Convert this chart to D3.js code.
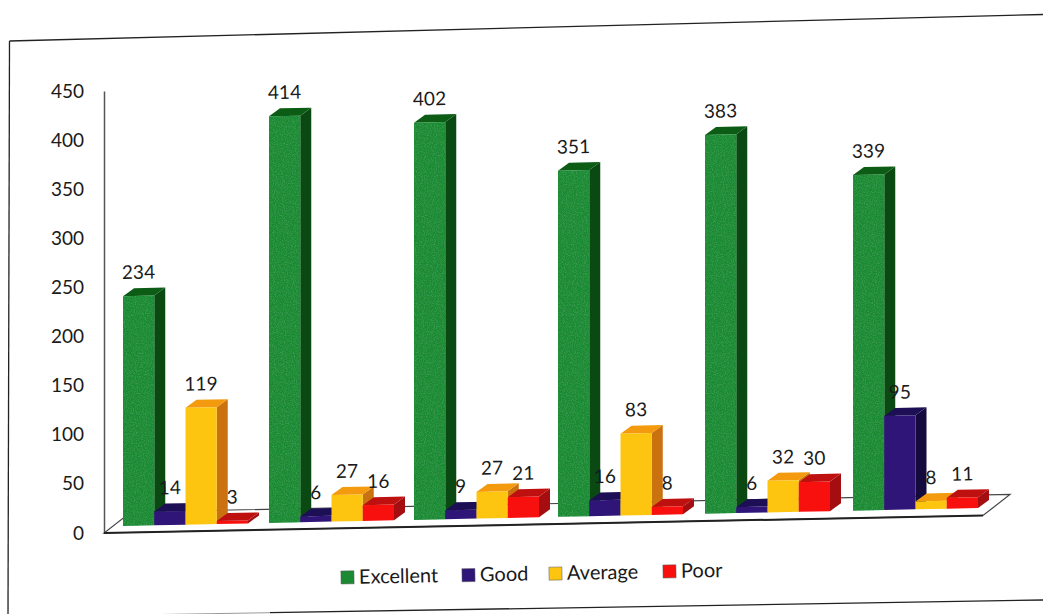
<!DOCTYPE html>
<html><head><meta charset="utf-8">
<script src="https://cdn.jsdelivr.net/npm/d3@7/dist/d3.min.js"></script>
<style>html,body{margin:0;padding:0;background:#fff}svg{display:block}text{font-family:Lato,"Open Sans",sans-serif;fill:#1a1a1a}</style>
</head><body><svg id="c" width="1043" height="614">
<defs><filter id="speck" x="0" y="0" width="100%" height="100%">
<feTurbulence type="fractalNoise" baseFrequency="0.9" numOctaves="2" seed="4" result="n"/>
<feColorMatrix in="n" type="matrix" values="0 0 0 0 0.05  0 0 0 0 0.35  0 0 0 0 0.1  2.2 0 0 0 -0.95" result="d"/>
<feComposite in="d" in2="SourceAlpha" operator="in" result="c"/>
<feMerge><feMergeNode in="SourceGraphic"/><feMergeNode in="c"/></feMerge>
</filter></defs>
</svg>
<script>
const seriesNames = ["Excellent","Good","Average","Poor"];
const excellent = [234,414,402,351,383,339];
const good = [14,6,9,16,6,95];
const average = [119,27,27,83,32,8];
const poor = [3,16,21,8,30,11];
const yTicks = [0,50,100,150,200,250,300,350,400,450];
const groupIndex = [0,1,2,3,4,5];
const faceColors = ["#1b8a33","#2e1577","#fdc510","#f8100e"];
const sideColors = ["#0a4a12","#150a3e","#c9720f","#a50e10"];
const topColors  = ["#0d5c16","#1d0f55","#f39a0e","#bf1010"];
const legendX = [341,462,549,663];
const seriesValues = [excellent,good,average,poor];

const svg = d3.select("#c");
// page frame
const framePts = [[[9.5,41],[1043,14.5]],[[9.5,41],[8,614]],[[270,612.7],[1043,600]]];
svg.selectAll("path.frame").data(framePts).join("path").attr("class","frame")
  .attr("d",d=>d3.line()(d)).attr("fill","none").attr("stroke","#222").attr("stroke-width",1.3);
svg.append("path").attr("d",d3.line()([[8,617],[270,612.7]])).attr("stroke","#999").attr("stroke-width",1).attr("fill","none");

const y = d3.scaleLinear().domain([0,450]).range([533,91]);
const gx = d3.scaleLinear().domain(groupIndex).range([123,269,414,558,705,853]);
const gk = d3.scaleLinear().domain([0,1,2,3,4,5]).range([1,1,1.006,1.004,1.007,1.008]);
const sx = d3.scaleBand().domain(seriesNames).range([0,125]);
const slope = -0.021, depthX = 11, depthY = -8;
const baseY = x => 526 + slope*(x-123);
const h = (v,g) => (y(0)-y(v))*gk(g);

// axis
const axis = d3.axisLeft(y).tickValues(yTicks).tickSize(0).tickPadding(20);
const ag = svg.append("g").attr("transform","translate(104,0)").call(axis);
ag.select(".domain").attr("stroke","#555").attr("stroke-width",1.5);
ag.selectAll("text").attr("font-size",19).style("fill","#1a1a1a");

// floor
const fl = [[104,533],[983,515.5],[1010,494.5],[131,512]];
svg.append("path").attr("d",d3.line().curve(d3.curveLinearClosed)(fl)).attr("fill","#fff").attr("stroke","#444").attr("stroke-width",1.2);
svg.append("path").attr("d",d3.line()(fl.slice(0,2))).attr("stroke","#222").attr("stroke-width",2).attr("fill","none");

// bars
const poly = d3.line().curve(d3.curveLinearClosed);
const bars = [];
groupIndex.forEach(g=>seriesNames.forEach((s,i)=>bars.push({g,s,i,v:seriesValues[i][g]})));
const bg = svg.selectAll("g.bar").data(bars).join("g").attr("class","bar");
bg.each(function(d){
  const x0 = gx(d.g)+sx(d.s), x1 = x0+sx.bandwidth();
  const b0 = baseY(x0), b1 = baseY(x1), t0 = b0-h(d.v,d.g), t1 = b1-h(d.v,d.g);
  const n = d3.select(this);
  n.append("path").attr("d",poly([[x1,b1],[x1+depthX,b1+depthY],[x1+depthX,t1+depthY],[x1,t1]])).attr("fill",sideColors[d.i]);
  n.append("path").attr("d",poly([[x0,t0],[x1,t1],[x1+depthX,t1+depthY],[x0+depthX,t0+depthY]])).attr("fill",topColors[d.i]);
  const f = n.append("path").attr("d",poly([[x0,b0],[x1,b1],[x1,t1],[x0,t0]])).attr("fill",faceColors[d.i]);
  if (d.i===0 && d.v>50) f.attr("filter","url(#speck)");
});
// data labels
svg.selectAll("text.lab").data(bars).join("text").attr("class","lab")
  .attr("font-size",19).attr("text-anchor","middle")
  .each(function(d){
    const xc = gx(d.g)+sx(d.s)+sx.bandwidth()/2;
    const yc = baseY(xc)-h(d.v,d.g)-17;
    d3.select(this).attr("transform",`translate(${xc},${yc}) rotate(-1)`);
  }).text(d=>d.v);

// legend
const lg = svg.selectAll("g.leg").data(seriesNames).join("g").attr("class","leg")
  .attr("transform",(d,i)=>`translate(${legendX[i]},${577.5-(legendX[i]-341)*0.0185}) rotate(-1)`);
lg.append("rect").attr("y",-6.5).attr("width",13).attr("height",13).attr("fill",(d,i)=>faceColors[i]).attr("stroke","#555").attr("stroke-width",.5);
lg.append("text").attr("x",18).attr("y",6.5).attr("font-size",20).text(d=>d);
</script></body></html>
